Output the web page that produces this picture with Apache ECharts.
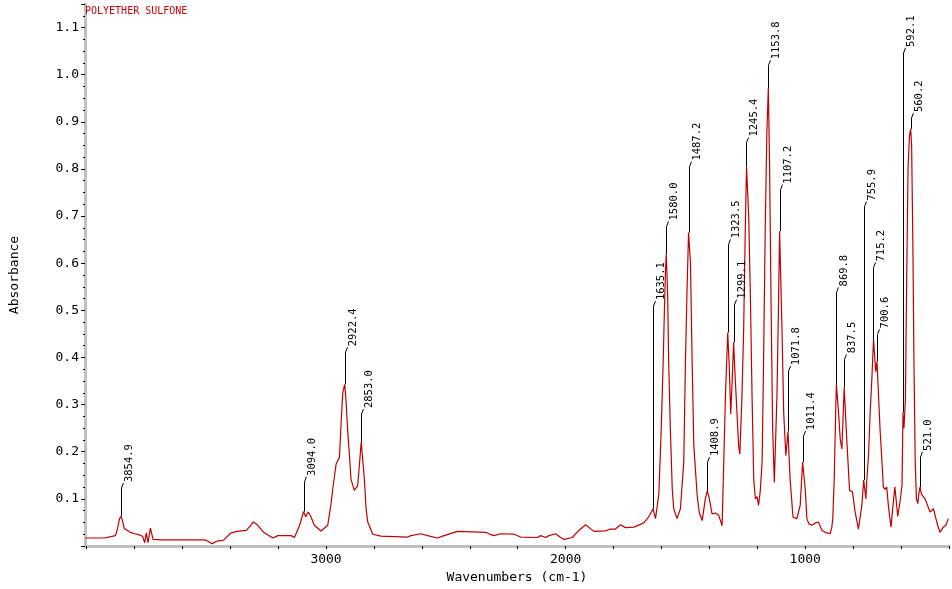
<!DOCTYPE html>
<html>
<head>
<meta charset="utf-8">
<script src="https://cdn.jsdelivr.net/npm/echarts@6/dist/echarts.min.js"></script>
<style>
  html, body { margin: 0; padding: 0; background: #fff; }
  #chart { width: 952px; height: 589px; }
</style>
</head>
<body>
<div id="chart"></div>
<script>
// spectrum: wavenumber (cm-1) / absorbance
var wavenumber = [
  4004, 3925, 3921, 3879, 3871, 3862, 3855, 3850, 3842, 3821, 3800, 3775, 3765, 3757, 3750, 3743, 3733, 3722, 3688, 3508,
  3492, 3476, 3451, 3429, 3396, 3371, 3333, 3317, 3303, 3287, 3258, 3222, 3201, 3146, 3132, 3111, 3094, 3085, 3074, 3063,
  3049, 3021, 2993, 2979, 2972, 2958, 2944, 2937, 2930, 2922, 2917, 2910, 2902, 2896, 2882, 2868, 2861, 2853, 2848, 2840,
  2833, 2826, 2805, 2771, 2660, 2646, 2604, 2576, 2535, 2507, 2451, 2389, 2333, 2313, 2299, 2271, 2215, 2188, 2118, 2104,
  2083, 2070, 2042, 2021, 2007, 1972, 1945, 1917, 1882, 1833, 1813, 1792, 1771, 1750, 1715, 1674, 1653, 1635, 1625, 1617,
  1611, 1601, 1593, 1588, 1583, 1580, 1574, 1570, 1563, 1555, 1549, 1535, 1521, 1507, 1500, 1493, 1487, 1479, 1472, 1465,
  1451, 1442, 1430, 1417, 1409, 1400, 1389, 1375, 1361, 1347, 1340, 1333, 1323.5, 1317, 1311, 1305, 1299, 1292, 1278, 1273,
  1264, 1257, 1250, 1245, 1236, 1229, 1222, 1215, 1208, 1201, 1195, 1188, 1180, 1174, 1167, 1160, 1154, 1149, 1143, 1136,
  1129, 1118, 1111, 1107, 1097, 1090, 1081, 1072, 1063, 1051, 1035, 1021, 1011, 1000, 993, 985, 972, 958, 945, 930,
  917, 896, 889, 885, 879, 873, 870, 861, 854, 847, 837.5, 826, 815, 803, 792, 778, 764, 756, 747, 743,
  736, 729, 722, 715, 706, 700.6, 695, 688, 680, 674, 667, 660, 652, 642, 633, 626, 621, 614, 604, 596,
  592, 588, 582, 577, 571, 565, 560, 556, 551, 546, 541, 536, 530, 526, 521, 515, 500, 479, 465, 451,
  438, 424, 413, 403
];
var absorbance = [
  0.017, 0.017, 0.021, 0.022, 0.035, 0.058, 0.063, 0.055, 0.037, 0.030, 0.026, 0.023, 0.020, 0.007, 0.028, 0.007, 0.038, 0.014, 0.013, 0.013,
  0.010, 0.005, 0.011, 0.012, 0.028, 0.031, 0.033, 0.042, 0.051, 0.045, 0.028, 0.017, 0.022, 0.022, 0.018, 0.043, 0.073, 0.062, 0.072, 0.062,
  0.044, 0.032, 0.044, 0.090, 0.121, 0.174, 0.188, 0.262, 0.326, 0.343, 0.312, 0.248, 0.190, 0.142, 0.118, 0.128, 0.171, 0.221, 0.190, 0.142,
  0.080, 0.051, 0.025, 0.021, 0.019, 0.022, 0.026, 0.022, 0.017, 0.022, 0.031, 0.030, 0.029, 0.024, 0.022, 0.026, 0.025, 0.019, 0.018, 0.022,
  0.018, 0.022, 0.026, 0.018, 0.014, 0.018, 0.033, 0.045, 0.031, 0.032, 0.036, 0.036, 0.045, 0.039, 0.040, 0.049, 0.062, 0.079, 0.058, 0.060,
  0.110, 0.248, 0.390, 0.496, 0.590, 0.619, 0.530, 0.390, 0.248, 0.121, 0.079, 0.058, 0.079, 0.178, 0.390, 0.550, 0.665, 0.600, 0.390, 0.213,
  0.107, 0.070, 0.054, 0.100, 0.117, 0.100, 0.068, 0.070, 0.065, 0.043, 0.178, 0.319, 0.453, 0.380, 0.280, 0.350, 0.432, 0.354, 0.213, 0.195,
  0.320, 0.460, 0.680, 0.805, 0.700, 0.530, 0.319, 0.142, 0.100, 0.105, 0.086, 0.115, 0.178, 0.390, 0.672, 0.880, 0.972, 0.813, 0.530, 0.248,
  0.135, 0.320, 0.530, 0.668, 0.460, 0.284, 0.192, 0.243, 0.140, 0.061, 0.058, 0.086, 0.178, 0.121, 0.058, 0.047, 0.044, 0.049, 0.051, 0.033,
  0.029, 0.026, 0.040, 0.058, 0.142, 0.283, 0.343, 0.283, 0.227, 0.206, 0.336, 0.220, 0.118, 0.115, 0.073, 0.036, 0.085, 0.140, 0.100, 0.140,
  0.192, 0.284, 0.354, 0.439, 0.370, 0.392, 0.330, 0.250, 0.180, 0.125, 0.120, 0.125, 0.080, 0.040, 0.090, 0.125, 0.100, 0.063, 0.095, 0.130,
  0.284, 0.250, 0.310, 0.550, 0.800, 0.870, 0.885, 0.850, 0.650, 0.380, 0.180, 0.100, 0.090, 0.110, 0.125, 0.110, 0.100, 0.072, 0.079, 0.051,
  0.029, 0.040, 0.044, 0.058
];

// picked peaks: position, height at the peak, height where the label line stops
var peakWn = [3854.9, 3094.0, 2922.4, 2853.0, 1635.1, 1580.0, 1487.2, 1408.9, 1323.5, 1299.1, 1245.4, 1153.8,
  1107.2, 1071.8, 1011.4, 869.8, 837.5, 755.9, 715.2, 700.6, 592.1, 560.2, 521.0];
var peakAbs = [0.063, 0.073, 0.343, 0.221, 0.079, 0.619, 0.665, 0.117, 0.453, 0.432, 0.805, 0.972,
  0.668, 0.243, 0.178, 0.343, 0.336, 0.140, 0.439, 0.392, 0.284, 0.885, 0.125];
var labelTop = [0.123, 0.136, 0.411, 0.280, 0.509, 0.678, 0.805, 0.178, 0.640, 0.512, 0.856, 1.020,
  0.756, 0.371, 0.233, 0.538, 0.396, 0.720, 0.591, 0.449, 1.046, 0.908, 0.189];

var chart = echarts.init(document.getElementById('chart'));
var monoFont = '"DejaVu Sans Mono", "Liberation Mono", monospace';

var spectrum = [];
for (var i = 0; i < wavenumber.length; i++) {
  spectrum.push([wavenumber[i], absorbance[i]]);
}
var peaks = [];
for (var j = 0; j < peakWn.length; j++) {
  peaks.push([peakWn[j], peakAbs[j], labelTop[j]]);
}

var option = {
  animation: false,
  backgroundColor: '#fff',
  title: {
    text: 'POLYETHER SULFONE',
    left: 85,
    top: 6,
    padding: 0,
    textStyle: { fontSize: 10, color: '#cc0000', fontWeight: 'normal', fontFamily: monoFont }
  },
  grid: { left: 83, right: 3, top: 4, bottom: 42 },
  xAxis: {
    type: 'value',
    inverse: true,
    min: 400,
    max: 4006,
    interval: 200,
    name: 'Wavenumbers (cm-1)',
    nameLocation: 'middle',
    nameGap: 25,
    nameTextStyle: { fontSize: 13, color: '#000', fontFamily: monoFont },
    axisLine: { lineStyle: { color: '#c0c0c0', width: 3 } },
    axisTick: { length: 3, lineStyle: { color: '#000' } },
    axisLabel: {
      margin: 7,
      fontSize: 13,
      color: '#000',
      fontFamily: monoFont,
      showMaxLabel: false,
      // only 1000, 2000 and 3000 carry a number
      formatter: function(v) { return (v % 1000 === 0 && v < 3500) ? String(v) : ''; }
    },
    splitLine: { show: false }
  },
  yAxis: {
    type: 'value',
    min: 0,
    max: 1.15,
    interval: 0.1,
    name: 'Absorbance',
    nameLocation: 'middle',
    nameGap: 64,
    nameTextStyle: { fontSize: 13, color: '#000', fontFamily: monoFont },
    axisLine: { show: true, lineStyle: { color: '#c0c0c0', width: 3 } },
    axisTick: { show: true, length: 4, lineStyle: { color: '#000' } },
    minorTick: { show: true, splitNumber: 4, length: 2, lineStyle: { color: '#000' } },
    axisLabel: {
      margin: 6,
      fontSize: 13,
      color: '#000',
      fontFamily: monoFont,
      showMaxLabel: false,
      formatter: function(v) { return (v < 0.05 || v > 1.12) ? '' : v.toFixed(1); }
    },
    splitLine: { show: false }
  },
  series: [
    {
      name: 'spectrum',
      type: 'line',
      data: spectrum,
      showSymbol: false,
      lineStyle: { color: '#c00000', width: 1.2 },
      z: 2
    },
    {
      name: 'peaks',
      type: 'custom',
      data: peaks,
      clip: false,
      silent: true,
      z: 3,
      encode: { x: 0, y: [1, 2] },
      renderItem: function(params, api) {
        var p0 = api.coord([api.value(0), api.value(1)]);
        var p1 = api.coord([api.value(0), api.value(2)]);
        var x = Math.round(p0[0]) + 0.5;
        return {
          type: 'group',
          children: [
            {
              type: 'polyline',
              shape: { points: [[x, p0[1]], [x, p1[1]], [x + 2, p1[1] - 5]] },
              style: { stroke: '#000', lineWidth: 1, fill: null }
            },
            {
              type: 'text',
              x: x + 8,
              y: p1[1] - 6,
              rotation: Math.PI / 2,
              style: {
                text: peakWn[params.dataIndex].toFixed(1),
                fill: '#000',
                font: '10.5px ' + monoFont,
                align: 'left',
                verticalAlign: 'middle'
              }
            }
          ]
        };
      }
    }
  ]
};
chart.setOption(option);
</script>
</body>
</html>
